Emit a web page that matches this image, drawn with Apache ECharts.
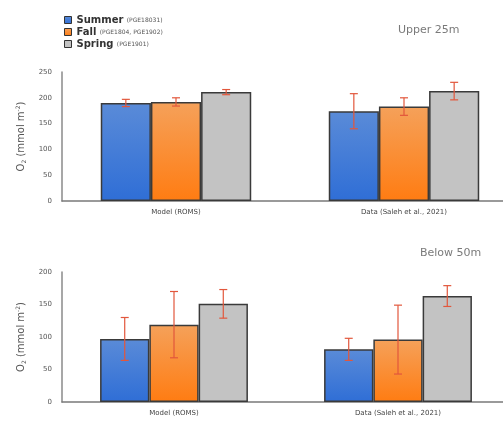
<!DOCTYPE html>
<html><head><meta charset="utf-8">
<script src="https://cdn.jsdelivr.net/npm/echarts@6/dist/echarts.min.js"></script>
<style>html,body{margin:0;padding:0;background:#fff;overflow:hidden;width:503px;height:423px}#c{width:518px;height:423px}</style>
</head><body><div id="c"></div>
<script>
const categories = ['Model (ROMS)', 'Data (Saleh et al., 2021)'];
const seriesNames = ['Summer', 'Fall', 'Spring'];
const seriesNotes = ['(PGE18031)', '(PGE1804, PGE1902)', '(PGE1901)'];
const upperSummer = [190, 174];
const upperFall = [192, 183];
const upperSpring = [211, 213];
const upperSummerErr = [7, 34];
const upperFallErr = [8, 17];
const upperSpringErr = [5, 17];
const belowSummer = [97, 81];
const belowFall = [119, 96];
const belowSpring = [151, 163];
const belowSummerErr = [33, 17];
const belowFallErr = [51, 53];
const belowSpringErr = [22, 16];
const upperTicks = [0, 50, 100, 150, 200, 250];
const belowTicks = [0, 50, 100, 150, 200];
const panelTitles = ['Upper 25m', 'Below 50m'];

const colors = [
  new echarts.graphic.LinearGradient(0,0,0,1,[{offset:0,color:'#5a8bd8'},{offset:1,color:'#2f6ed6'}]),
  new echarts.graphic.LinearGradient(0,0,0,1,[{offset:0,color:'#f5a15a'},{offset:1,color:'#ff7c12'}]),
  '#c3c3c3'
];
const gap = '34%';
const catGapFrac = 0.34;

const chart = echarts.init(document.getElementById('c'));

function barSeries(panel, vals) {
  return vals.map((v, i) => ({
    name: seriesNames[i], type: 'bar', xAxisIndex: panel, yAxisIndex: panel,
    data: v, barGap: 0, barCategoryGap: gap,
    itemStyle: {color: colors[i], borderColor: '#3a3a3a', borderWidth: 1.5},
    emphasis: {disabled: true}, z: 2
  }));
}
function errSeries(panel, vals, errs) {
  return vals.map((v, i) => ({
    type: 'custom', xAxisIndex: panel, yAxisIndex: panel, z: 5, silent: true,
    data: v.map((m, k) => [k, m - errs[i][k], m + errs[i][k]]),
    renderItem: function (params, api) {
      const band = api.size([1, 0])[0];
      const bw = band * (1 - catGapFrac) / 3;
      const lo = api.coord([api.value(0), api.value(1)]);
      const hi = api.coord([api.value(0), api.value(2)]);
      const x = lo[0] + (i - 1) * bw;
      const cap = 4;
      const st = {stroke: '#e2573c', lineWidth: 1.2};
      return {type: 'group', children: [
        {type: 'line', shape: {x1: x, y1: lo[1], x2: x, y2: hi[1]}, style: st},
        {type: 'line', shape: {x1: x - cap, y1: lo[1], x2: x + cap, y2: lo[1]}, style: st},
        {type: 'line', shape: {x1: x - cap, y1: hi[1], x2: x + cap, y2: hi[1]}, style: st}
      ]};
    }
  }));
}

const yName = 'O{s|2} (mmol m{p|-2})';
function yAxis(gridIndex, ticks) {
  return {
    type: 'value', gridIndex, min: ticks[0], max: ticks[ticks.length - 1], interval: ticks[1] - ticks[0],
    splitLine: {show: false}, axisTick: {show: false},
    axisLine: {show: true, lineStyle: {color: '#8a8a8a', width: 1.5}},
    axisLabel: {color: '#555', fontSize: 7, fontFamily: 'DejaVu Sans', margin: 10},
    name: yName, nameLocation: 'middle', nameGap: 33, nameRotate: 90,
    nameTextStyle: {color: '#555', fontSize: 10, fontFamily: 'DejaVu Sans',
      rich: {s: {fontSize: 6, color: '#555', padding: [6, 0, 0, 0]}, p: {fontSize: 6, color: '#555', padding: [0, 0, 6, 0]}}}
  };
}
function xAxis(gridIndex) {
  return {
    type: 'category', gridIndex, data: categories,
    axisTick: {show: false},
    axisLine: {lineStyle: {color: '#7a7a7a', width: 1.5}},
    axisLabel: {color: '#444', fontSize: 7, fontFamily: 'DejaVu Sans', margin: 8}
  };
}

chart.setOption({
  animation: false,
  grid: [
    {left: 62, right: 0, top: 72, bottom: 222},
    {left: 62, right: 8, top: 272, bottom: 21}
  ],
  xAxis: [xAxis(0), xAxis(1)],
  yAxis: [yAxis(0, upperTicks), yAxis(1, belowTicks)],
  legend: {
    data: seriesNames, orient: 'vertical', left: 59, top: 9, itemGap: 0,
    itemWidth: 7, itemHeight: 7, icon: 'rect', selectedMode: false,
    itemStyle: {borderColor: '#333', borderWidth: 1},
    formatter: function (n) { const i = seriesNames.indexOf(n); return '{a|' + n + '} {b|' + seriesNotes[i] + '}'; },
    textStyle: {rich: {a: {fontSize: 10, lineHeight: 12, color: '#333', fontFamily: 'DejaVu Sans', fontWeight: 'bold'},
                       b: {fontSize: 6, lineHeight: 12, color: '#555', fontFamily: 'DejaVu Sans'}}}
  },
  graphic: [
    {type: 'text', left: 398, top: 25, style: {text: panelTitles[0], fill: '#7a7a7a', fontSize: 11, fontFamily: 'DejaVu Sans'}},
    {type: 'text', left: 420, top: 248, style: {text: panelTitles[1], fill: '#7a7a7a', fontSize: 11, fontFamily: 'DejaVu Sans'}}
  ],
  series: [
    ...barSeries(0, [upperSummer, upperFall, upperSpring]),
    ...barSeries(1, [belowSummer, belowFall, belowSpring]),
    ...errSeries(0, [upperSummer, upperFall, upperSpring], [upperSummerErr, upperFallErr, upperSpringErr]),
    ...errSeries(1, [belowSummer, belowFall, belowSpring], [belowSummerErr, belowFallErr, belowSpringErr])
  ]
});
</script></body></html>
